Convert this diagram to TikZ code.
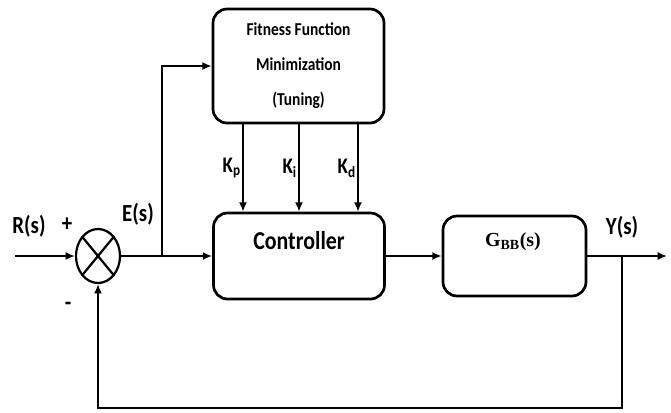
\documentclass[tikz,border=0pt]{standalone}
\usepackage{fontspec}
\setmainfont{Carlito}[FakeStretch=0.85]
\newfontfamily\gfont{Liberation Serif}
\usetikzlibrary{arrows.meta, shapes.geometric}

\begin{document}
\begin{tikzpicture}[x=0.03cm,y=-0.03cm,>={Latex[length=8pt,width=7pt]},line width=1.9pt,
  blk/.style={draw,rounded corners=12pt,line width=2.3pt,inner sep=0pt},
  lbl/.style={font=\fontsize{21}{21}\selectfont\bfseries}]
\useasboundingbox (0,0) rectangle (671,412);
% blocks
\node[blk,minimum width=5.13cm,minimum height=3.42cm,align=center,font=\fontsize{15.5}{30}\selectfont\bfseries] (fit) at (298.5,66) {Fitness Function\\Minimization\\(Tuning)};
\node[blk,minimum width=5.13cm,minimum height=2.58cm] (ctrl) at (299,256) {};\node[font=\fontsize{22}{22}\selectfont\bfseries] (ctrltxt) at (299,241) {Controller};
\node[blk,minimum width=4.29cm,minimum height=2.4cm] (plant) at (514.5,256) {};\node[font=\gfont\fontsize{17}{17}\selectfont\bfseries] (gtxt) at (513,242) {G\textsubscript{BB}(s)};
\node[draw,ellipse,minimum width=1.32cm,minimum height=1.62cm,inner sep=0pt] (sum) at (98,256) {};\draw (sum.north east)--(sum.south west) (sum.north west)--(sum.south east);
% signals
\coordinate (in) at (15,256);\coordinate (eb) at (162,256);\coordinate (yb) at (622,256);\coordinate (out) at (667,256);\coordinate (fb) at (98,408);
\draw[->] (in) -- (sum.west);\draw[->] (sum.east) -- (ctrl.west);\draw[->] (eb) |- (fit.west);
\foreach \x/\k in {243/p,299/i,358/d}{\coordinate (kk) at (\x,0);\draw[->] (fit.south -| kk) -- node[left,inner sep=1pt,font=\fontsize{19}{19}\selectfont\bfseries]{K\textsubscript{\k}} (ctrl.north -| kk);}
\draw[->] (ctrl.east) -- (plant.west);\draw[->] (plant.east) -- (out);\draw[->] (yb) |- (fb) -- (sum.south);
% labels
\node[lbl] (rs) at (29,226){R(s)};\node[lbl] (plus) at (67,225){+};\node[lbl] (es) at (138,214){E(s)};\node[lbl] (minus) at (68,306){-};\node[lbl] (ys) at (622,227){Y(s)};
\end{tikzpicture}
\end{document}
